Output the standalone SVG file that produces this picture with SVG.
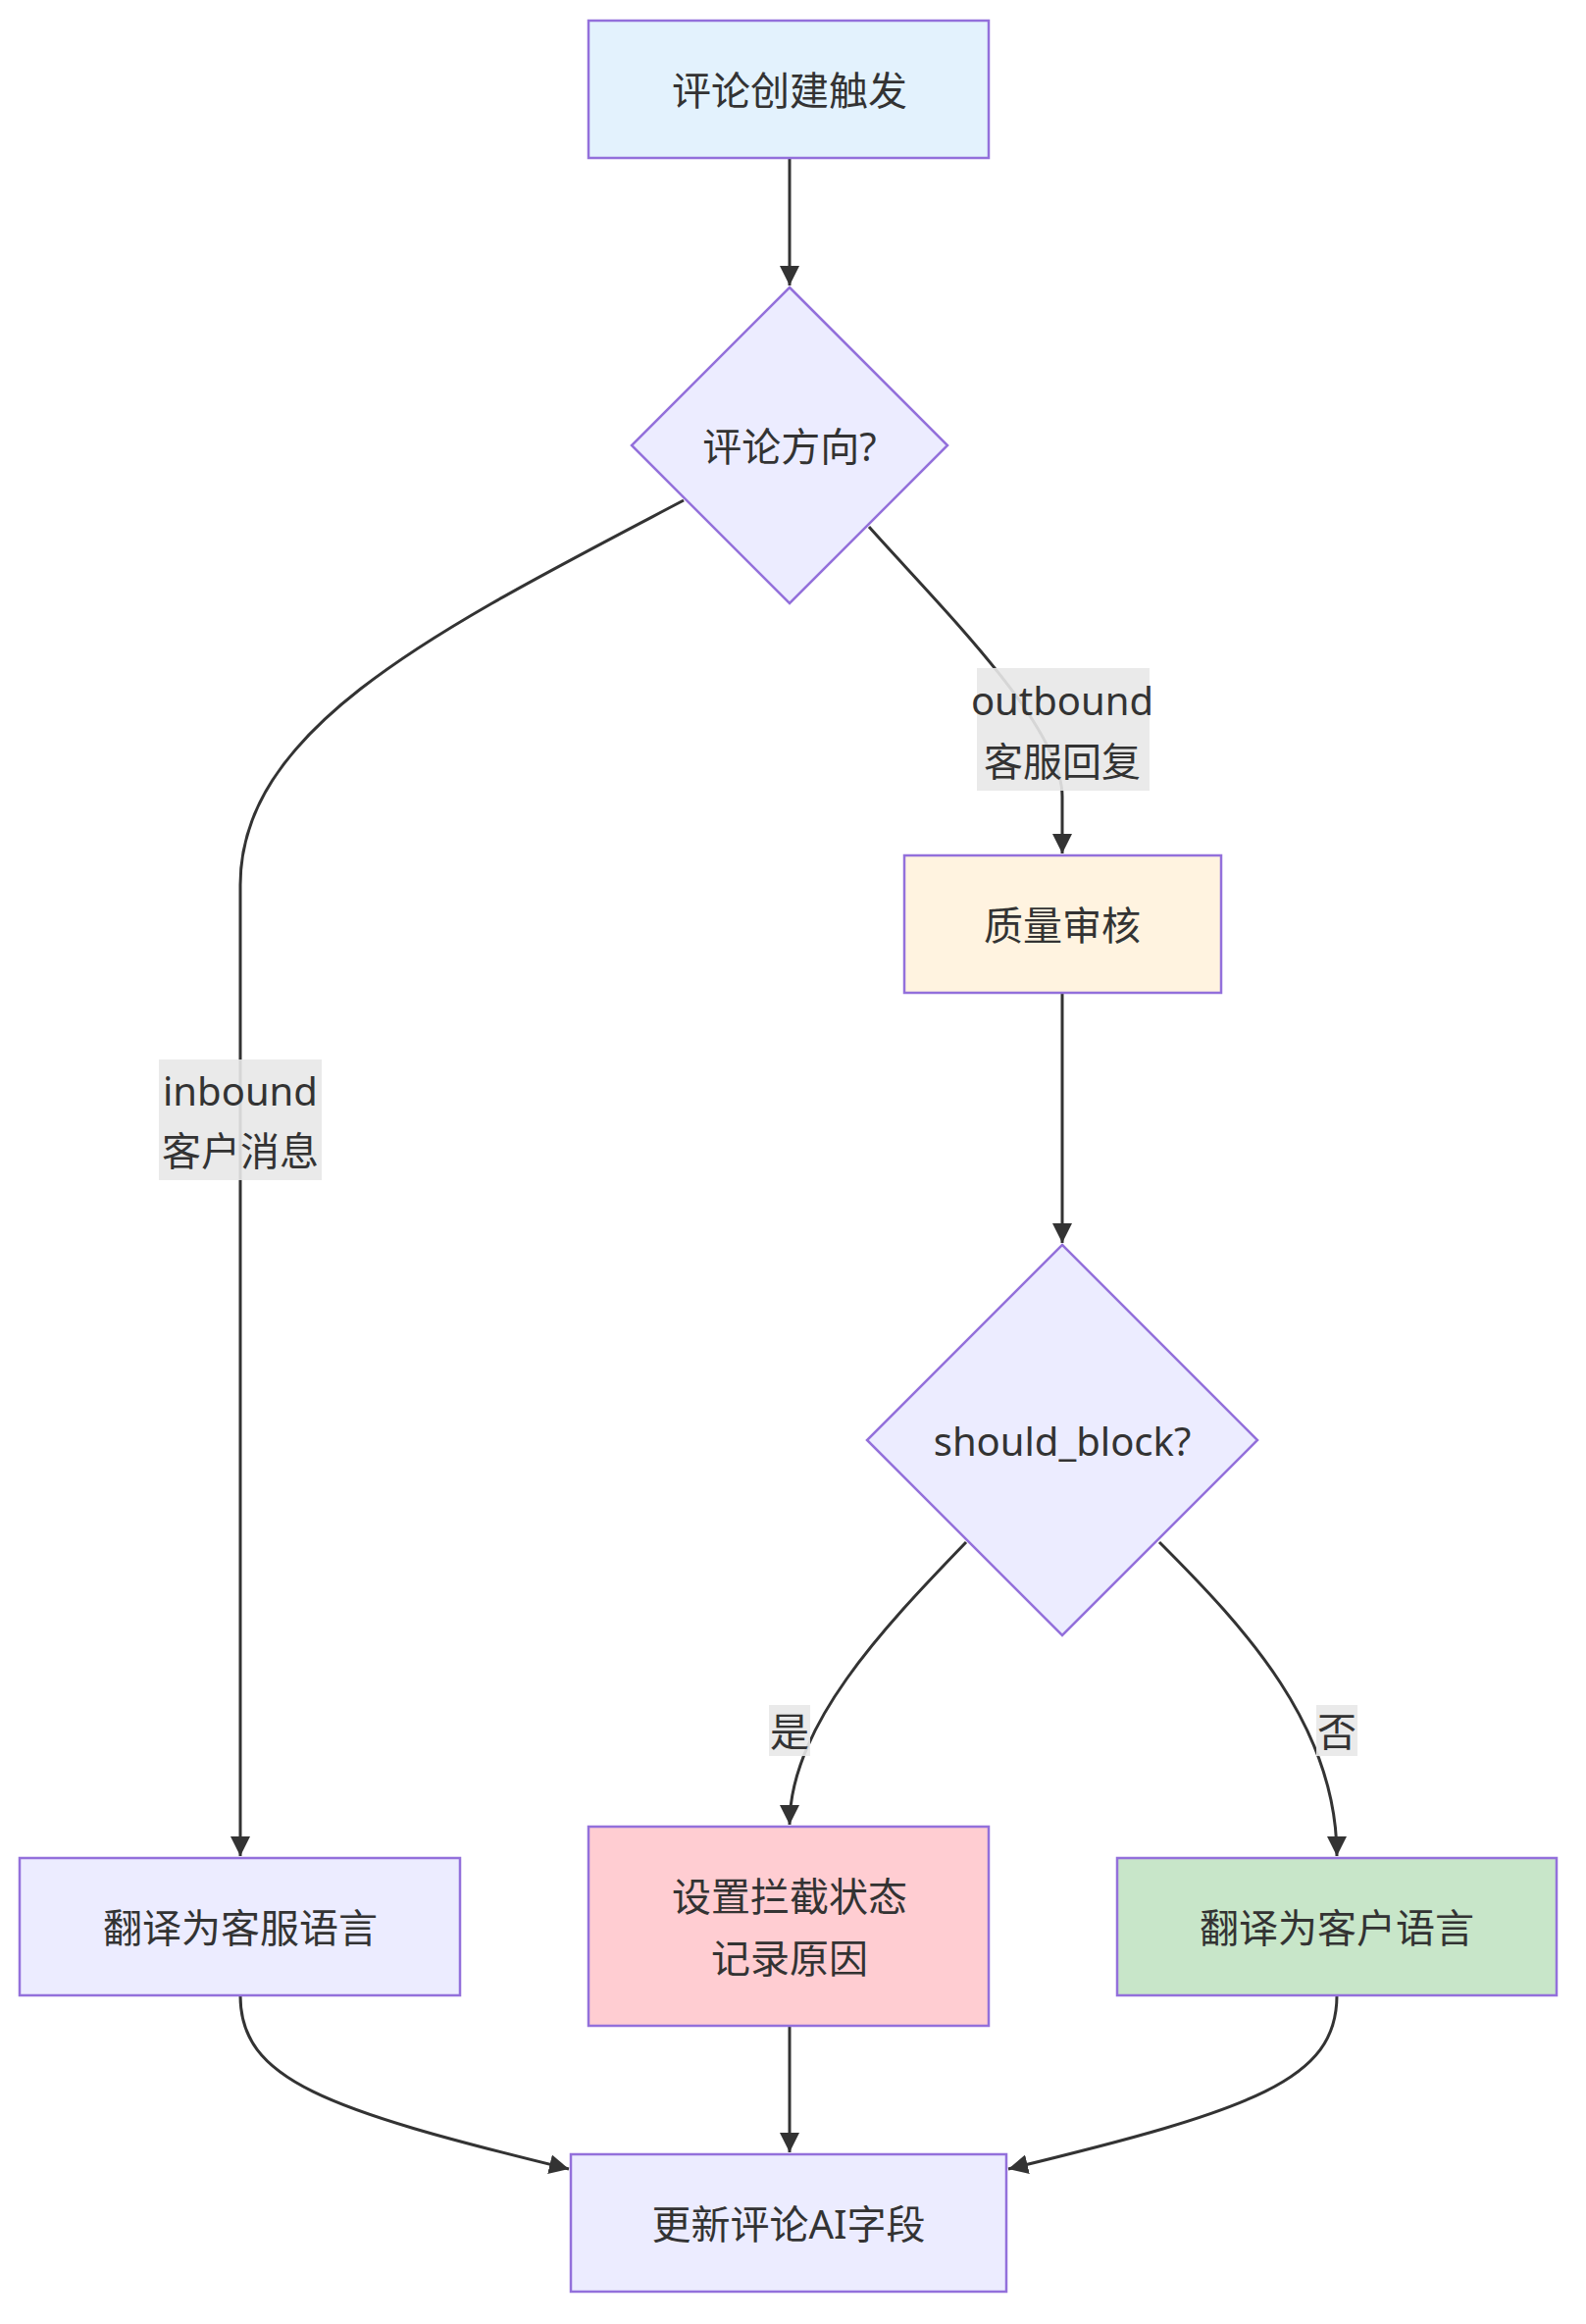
<svg xmlns="http://www.w3.org/2000/svg" width="1617" height="2369" viewBox="0 0 1617 2369">
<style>
.n{stroke:#9370DB;stroke-width:2.5}
.t{font-family:"Noto Sans","Noto Sans CJK SC",sans-serif;font-size:40px;fill:#333;text-anchor:middle;dominant-baseline:central}
.e{fill:none;stroke:#333;stroke-width:3}
.lb{fill:#e8e8e8;opacity:0.9}
</style>
<defs><marker id="a" viewBox="0 0 10 10" refX="9" refY="5" markerWidth="7" markerHeight="7" orient="auto" markerUnits="userSpaceOnUse" style="overflow:visible"><path d="M0,0L10,5L0,10z" fill="#333" transform="scale(2.2) translate(-5.5,-0.5) translate(1,0)"/></marker>
<marker id="b" viewBox="0 0 12 12" refX="12" refY="6" markerWidth="20" markerHeight="20" orient="auto" markerUnits="userSpaceOnUse"><path d="M0,0L12,6L0,12z" fill="#333"/></marker></defs>
<g id="edges">
<path class="e" d="M805,161V291" marker-end="url(#b)"/>
<path class="e" d="M697,510C450,640 245,740 245,902V1892" marker-end="url(#b)"/>
<path class="e" d="M886,537C960,620 1083,740 1083,812V870" marker-end="url(#b)"/>
<path class="e" d="M1083,1012V1267" marker-end="url(#b)"/>
<path class="e" d="M985,1572C900,1660 805,1760 805,1860" marker-end="url(#b)"/>
<path class="e" d="M1182,1572C1270,1660 1363,1760 1363,1892" marker-end="url(#b)"/>
<path class="e" d="M245,2034C245,2120 330,2150 580,2211" marker-end="url(#b)"/>
<path class="e" d="M805,2065V2194" marker-end="url(#b)"/>
<path class="e" d="M1363,2034C1363,2120 1280,2150 1028,2211" marker-end="url(#b)"/>
<rect class="lb" x="162" y="1080" width="166" height="123"/>
<text class="t" x="245" y="1111">inbound</text><text class="t" x="245" y="1172">客户消息</text>
<rect class="lb" x="996" y="681" width="176" height="125"/>
<text class="t" x="1083" y="713">outbound</text><text class="t" x="1083" y="775">客服回复</text>
<rect class="lb" x="784" y="1738" width="42" height="52"/><text class="t" x="805" y="1764">是</text>
<rect class="lb" x="1342" y="1738" width="42" height="52"/><text class="t" x="1363" y="1764">否</text>
</g>
<g id="start"><rect class="n" x="600" y="21" width="408" height="140" fill="#E3F2FD"/><text class="t" x="805" y="91">评论创建触发</text></g>
<g id="dir"><path class="n" d="M805,293L966,454L805,615L644,454Z" fill="#ECECFF"/><text class="t" x="805" y="454">评论方向?</text></g>
<g id="qa"><rect class="n" x="922" y="872" width="323" height="140" fill="#FFF3E0"/><text class="t" x="1083" y="942">质量审核</text></g>
<g id="block"><path class="n" d="M1083,1269L1282,1468L1083,1667L884,1468Z" fill="#ECECFF"/><text class="t" x="1083" y="1468">should_block?</text></g>
<g id="tin"><rect class="n" x="20" y="1894" width="449" height="140" fill="#ECECFF"/><text class="t" x="245" y="1964">翻译为客服语言</text></g>
<g id="blk"><rect class="n" x="600" y="1862" width="408" height="203" fill="#FFCDD2"/><text class="t" x="805" y="1932">设置拦截状态</text><text class="t" x="805" y="1995">记录原因</text></g>
<g id="tout"><rect class="n" x="1139" y="1894" width="448" height="140" fill="#C8E6C9"/><text class="t" x="1363" y="1964">翻译为客户语言</text></g>
<g id="upd"><rect class="n" x="582" y="2196" width="444" height="140" fill="#ECECFF"/><text class="t" x="804" y="2266">更新评论AI字段</text></g>
</svg>
